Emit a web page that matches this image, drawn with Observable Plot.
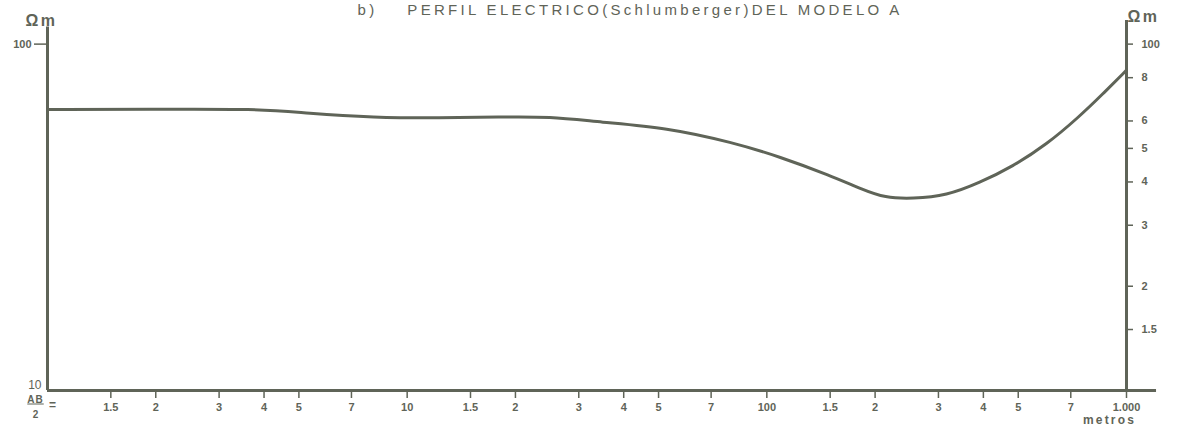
<!DOCTYPE html>
<html><head><meta charset="utf-8">
<script src="https://cdn.jsdelivr.net/npm/d3@7"></script>
<script src="https://cdn.jsdelivr.net/npm/@observablehq/plot@0.6"></script>
<style>
body{margin:0;background:#fff;overflow:hidden}
#chart svg{display:block;overflow:hidden}
</style>
</head><body><div id="chart"></div>
<script>
// AB/2 spacing (m) and apparent resistivity (ohm·m)
const spacing = [1, 1.93, 3.83, 5.28, 8.05, 12.35, 18.1, 24.9, 34.4, 52.7, 80.5, 108.7, 149.6, 184.7, 212.7, 254.5, 316, 390.6, 482, 599.5, 740, 857, 1000];
const resistivity = [64.8, 64.8, 65.1, 63.1, 61.4, 61.2, 61.6, 61.8, 59.5, 57.4, 52.0, 47.3, 41.8, 38.0, 36.0, 35.8, 36.5, 39.8, 44.3, 51.3, 61.8, 71.6, 84.1];

const xTicks = [1.5, 2, 3, 4, 5, 7, 10, 15, 20, 30, 40, 50, 70, 100, 150, 200, 300, 400, 500, 700, 1000];
const xTickLabels = ["1.5", "2", "3", "4", "5", "7", "10", "1.5", "2", "3", "4", "5", "7", "100", "1.5", "2", "3", "4", "5", "7", "1.000"];
const rightTicks = [100, 80, 60, 50, 40, 30, 20, 15];
const rightTickLabels = ["100", "8", "6", "5", "4", "3", "2", "1.5"];
const leftTicks = [100];
const leftTickLabels = ["100"];
const bottomTicks = [10];
const bottomTickLabels = ["10"];

const xDomain = [1, 1000];
const yDomain = [10, 117];
const bottomAxisLine = [{y: 10, x1: 1, x2: 1212}];
const leftAxisLine = [{x: 1, y1: 10, y2: 112}];
const rightAxisLine = [{x: 1000, y1: 10, y2: 117}];

const title = "b)\u00a0\u00a0\u00a0 PERFIL ELECTRICO(Schlumberger)DEL MODELO A";
const unitLabel = "\u03a9m";
const xUnitLabel = "metros";

const data = spacing.map((x, i) => ({x, y: resistivity[i]}));
const rLab = new Map(rightTicks.map((t, i) => [t, rightTickLabels[i]]));
const lLab = new Map(leftTicks.map((t, i) => [t, leftTickLabels[i]]));
const bLab = new Map(bottomTicks.map((t, i) => [t, bottomTickLabels[i]]));

const ink = "#5f6458";
const font = "Liberation Sans";

const chart = Plot.plot({
  width: 1177,
  height: 428,
  marginLeft: 47,
  marginRight: 51,
  marginTop: 20,
  marginBottom: 38,
  style: {fontFamily: font, background: "#fff", color: ink},
  x: {type: "log", domain: xDomain, label: null},
  y: {type: "log", domain: yDomain, label: null},
  marks: [
    Plot.ruleY(bottomAxisLine, {y: "y", x1: "x1", x2: "x2", stroke: ink, strokeWidth: 3}),
    Plot.ruleX(leftAxisLine, {x: "x", y1: "y1", y2: "y2", stroke: ink, strokeWidth: 3}),
    Plot.ruleX(rightAxisLine, {x: "x", y1: "y1", y2: "y2", stroke: ink, strokeWidth: 3}),
    Plot.line(data, {x: "x", y: "y", curve: "basis", stroke: ink, strokeWidth: 3}),
    Plot.axisX({ticks: xTicks, tickFormat: () => "", tickSize: 8, color: ink, strokeWidth: 1.5}),
    Plot.text(xTicks, {x: d => d, text: (d, i) => xTickLabels[i], frameAnchor: "bottom", dy: 20,
      fontSize: 11, fontWeight: "bold", fill: ink}),
    Plot.axisY({anchor: "left", ticks: leftTicks, tickFormat: d => lLab.get(d), tickSize: 13, tickPadding: 3,
      fontSize: 11, fontWeight: "bold", color: ink, strokeWidth: 1.5}),
    Plot.axisY({anchor: "left", ticks: bottomTicks, tickFormat: d => bLab.get(d), tickSize: 0, tickPadding: 6, dy: -5,
      fontSize: 12, color: ink}),
    Plot.axisY({anchor: "right", ticks: rightTicks, tickFormat: d => rLab.get(d), tickSize: 6, tickPadding: 9,
      fontSize: 11, fontWeight: "bold", color: ink, strokeWidth: 1.5}),
    Plot.text([title], {text: d => d, frameAnchor: "top", dx: 43, dy: -16, fontSize: 15, fill: ink}),
    Plot.text([unitLabel], {text: d => d, frameAnchor: "top-left", textAnchor: "start", dx: -22, dy: -6, fontSize: 16, fontWeight: "bold", fill: ink}),
    Plot.text([unitLabel], {text: d => d, frameAnchor: "top-right", textAnchor: "start", dx: 1, dy: -10, fontSize: 16, fontWeight: "bold", fill: ink}),
    Plot.text([xUnitLabel], {text: d => d, frameAnchor: "bottom-right", textAnchor: "middle", dx: -17, dy: 33, fontSize: 12, fontWeight: "bold", fill: ink}),
    Plot.text(["AB"], {text: d => d, frameAnchor: "bottom-left", textAnchor: "middle", dx: -12, dy: 12, fontSize: 10, fontWeight: "bold", fill: ink}),
    Plot.text(["2"], {text: d => d, frameAnchor: "bottom-left", textAnchor: "middle", dx: -12, dy: 27, fontSize: 10, fontWeight: "bold", fill: ink}),
    Plot.text(["="], {text: d => d, frameAnchor: "bottom-left", textAnchor: "middle", dx: 5, dy: 18, fontSize: 12, fontWeight: "bold", fill: ink})
  ]
});
document.getElementById("chart").appendChild(chart);
const sel = d3.select(chart).selectAll("text");
sel.filter(function() { return this.textContent.startsWith("b)"); }).attr("letter-spacing", 3.3);
sel.filter(function() { return this.textContent === "metros"; }).attr("letter-spacing", 2.2);
sel.filter(function() { return this.textContent === "\u03a9m"; }).attr("letter-spacing", 2.5);
sel.filter(function() { return this.textContent === "AB"; }).attr("letter-spacing", 1).attr("text-decoration", "underline");
</script>
</body></html>
